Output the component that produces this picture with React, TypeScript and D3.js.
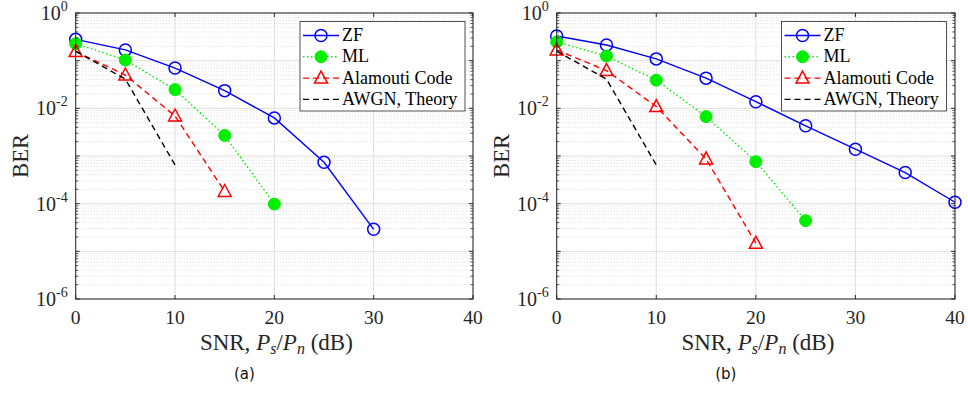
import React from "react";
import * as d3 from "d3";

// ---------- data ----------
const snrTicks = [0, 10, 20, 30, 40];
const berTicksExp = [0, -2, -4, -6];

const legendLabels = ["ZF", "ML", "Alamouti Code", "AWGN, Theory"];

// Panel (a)
const snrA_ZF = [0, 5, 10, 15, 20, 25, 30];
const berA_ZF = [0.28, 0.168, 0.07, 0.0235, 0.0063, 7.4e-4, 2.9e-5];
const snrA_ML = [0, 5, 10, 15, 20];
const berA_ML = [0.227, 0.103, 0.0247, 0.0027, 9.8e-5];
const snrA_AL = [0, 5, 10, 15];
const berA_AL = [0.155, 0.05, 0.0069, 1.8e-4];
const snrA_AW = [0, 5, 10];
const berA_AW = [0.158, 0.041, 6.5e-4];

// Panel (b)
const snrB_ZF = [0, 5, 10, 15, 20, 25, 30, 35, 40];
const berB_ZF = [0.33, 0.213, 0.109, 0.043, 0.0138, 0.0043, 0.00139, 4.5e-4, 1.07e-4];
const snrB_ML = [0, 5, 10, 15, 20, 25];
const berB_ML = [0.247, 0.125, 0.039, 0.0067, 7.6e-4, 4.4e-5];
const snrB_AL = [0, 5, 10, 15, 20];
const berB_AL = [0.168, 0.062, 0.0109, 8.7e-4, 1.48e-5];
const snrB_AW = [0, 5, 10];
const berB_AW = [0.158, 0.041, 6.5e-4];

type Series = { x: number[]; y: number[] };

const styles = [
  { color: "#0000ff", dash: "none", marker: "circle" },
  { color: "#00ee00", dash: "1.5,2.5", marker: "dot" },
  { color: "#ff0000", dash: "6,4", marker: "tri" },
  { color: "#000000", dash: "6,4", marker: "none" },
];

const AX = "#262626";
const serif = "'Liberation Serif', 'DejaVu Serif', serif";

function Marker({ kind, x, y, color }: { kind: string; x: number; y: number; color: string }) {
  if (kind === "circle")
    return <circle cx={x} cy={y} r={6} fill="none" stroke={color} strokeWidth={1.5} />;
  if (kind === "dot") return <circle cx={x} cy={y} r={6} fill={color} stroke={color} strokeWidth={1} />;
  if (kind === "tri")
    return (
      <path
        d={`M${x},${y - 7} L${x + 6.5},${y + 5} L${x - 6.5},${y + 5} Z`}
        fill="none"
        stroke={color}
        strokeWidth={1.5}
      />
    );
  return null;
}

function Panel({
  x0,
  x1,
  series,
  label,
  legendX,
}: {
  x0: number;
  x1: number;
  series: Series[];
  label: string;
  legendX: number;
}) {
  const y0 = 13;
  const y1 = 299;
  const xs = d3.scaleLinear().domain([0, 40]).range([x0, x1]);
  const ys = d3.scaleLog().domain([1e-6, 1]).range([y1, y0]);
  const line = d3
    .line<[number, number]>()
    .x((d) => xs(d[0]))
    .y((d) => ys(d[1]));

  const minor: number[] = [];
  for (let e = -6; e < 0; e++) for (let m = 2; m <= 9; m++) minor.push(m * Math.pow(10, e));
  const major = [1, 1e-1, 1e-2, 1e-3, 1e-4, 1e-5, 1e-6];

  const cx = (x0 + x1) / 2;
  const legW = 165;
  const legH = 89.5;
  const legY = 21.5;
  const rowH = 21.3;

  return (
    <g>
      {/* grid */}
      {minor.map((v, i) => (
        <line key={"mg" + i} x1={x0} x2={x1} y1={ys(v)} y2={ys(v)} stroke="#c8c8c8" strokeWidth={0.7} strokeDasharray="1,2" />
      ))}
      {major.map((v, i) => (
        <line key={"Mg" + i} x1={x0} x2={x1} y1={ys(v)} y2={ys(v)} stroke="#dedede" strokeWidth={1} />
      ))}
      {snrTicks.map((t) => (
        <line key={"xg" + t} x1={xs(t)} x2={xs(t)} y1={y0} y2={y1} stroke="#dedede" strokeWidth={1} />
      ))}

      {/* series */}
      {series.map((s, i) => {
        const pts = s.x.map((v, j) => [v, s.y[j]] as [number, number]);
        const st = styles[i];
        return (
          <g key={"s" + i}>
            <path d={line(pts) || ""} fill="none" stroke={st.color} strokeWidth={1.4} strokeDasharray={st.dash} />
            {pts.map((p, j) => (
              <Marker key={j} kind={st.marker} x={xs(p[0])} y={ys(p[1])} color={st.color} />
            ))}
          </g>
        );
      })}

      {/* box */}
      <rect x={x0} y={y0} width={x1 - x0} height={y1 - y0} fill="none" stroke={AX} strokeWidth={1} />

      {/* ticks */}
      {snrTicks.map((t) => (
        <g key={"xt" + t}>
          <line x1={xs(t)} x2={xs(t)} y1={y1} y2={y1 - 4} stroke={AX} />
          <line x1={xs(t)} x2={xs(t)} y1={y0} y2={y0 + 4} stroke={AX} />
          <text x={xs(t)} y={324} textAnchor="middle" fontFamily={serif} fontSize={19.5} fill={AX}>
            {t}
          </text>
        </g>
      ))}
      {major.map((v, i) => (
        <g key={"yt" + i}>
          <line x1={x0} x2={x0 + 4} y1={ys(v)} y2={ys(v)} stroke={AX} />
          <line x1={x1} x2={x1 - 4} y1={ys(v)} y2={ys(v)} stroke={AX} />
        </g>
      ))}
      {minor.map((v, i) => (
        <g key={"ymt" + i}>
          <line x1={x0} x2={x0 + 2.5} y1={ys(v)} y2={ys(v)} stroke={AX} strokeWidth={0.8} />
          <line x1={x1} x2={x1 - 2.5} y1={ys(v)} y2={ys(v)} stroke={AX} strokeWidth={0.8} />
        </g>
      ))}
      {berTicksExp.map((e) => (
        <text key={"yl" + e} x={x0 - 8} y={ys(Math.pow(10, e)) + 7} textAnchor="end" fontFamily={serif} fontSize={20} fill={AX}>
          10
          <tspan dy={-9} fontSize={14}>
            {e}
          </tspan>
        </text>
      ))}

      {/* axis labels */}
      <text x={cx + 2} y={349.5} textAnchor="middle" fontFamily={serif} fontSize={23} fill={AX}>
        SNR, <tspan fontStyle="italic">P</tspan>
        <tspan dy={4} fontSize={16} fontStyle="italic">s</tspan>
        <tspan dy={-4}>/</tspan>
        <tspan fontStyle="italic">P</tspan>
        <tspan dy={4} fontSize={16} fontStyle="italic">n</tspan>
        <tspan dy={-4}>{"\u00a0"}(dB)</tspan>
      </text>
      <text
        transform={`translate(${x0 - 48},${(y0 + y1) / 2}) rotate(-90)`}
        textAnchor="middle"
        fontFamily={serif}
        fontSize={22.5}
        fill={AX}
      >
        BER
      </text>
      <text x={cx - 30} y={379} textAnchor="middle" fontFamily="'DejaVu Sans', sans-serif" fontSize={15} fill="#111">
        {label}
      </text>

      {/* legend */}
      <rect x={legendX} y={legY} width={legW} height={legH} fill="#fff" stroke={AX} strokeWidth={0.8} />
      {legendLabels.map((name, i) => {
        const st = styles[i];
        const ry = legY + 14 + i * rowH;
        return (
          <g key={"lg" + i}>
            <line x1={legendX + 3} x2={legendX + 39} y1={ry} y2={ry} stroke={st.color} strokeWidth={1.4} strokeDasharray={st.dash} />
            <Marker kind={st.marker} x={legendX + 21} y={ry} color={st.color} />
            <text x={legendX + 42} y={ry + 5.5} fontFamily={serif} fontSize={18} fill="#000">
              {name}
            </text>
          </g>
        );
      })}
    </g>
  );
}

export default function App() {
  const seriesA: Series[] = [
    { x: snrA_ZF, y: berA_ZF },
    { x: snrA_ML, y: berA_ML },
    { x: snrA_AL, y: berA_AL },
    { x: snrA_AW, y: berA_AW },
  ];
  const seriesB: Series[] = [
    { x: snrB_ZF, y: berB_ZF },
    { x: snrB_ML, y: berB_ML },
    { x: snrB_AL, y: berB_AL },
    { x: snrB_AW, y: berB_AW },
  ];
  return (
    <svg
      width={968}
      height={393}
      style={{ position: "absolute", left: 0, top: 0, background: "#fff" }}
    >
      <rect width={968} height={393} fill="#fff" />
      <Panel x0={75.7} x1={473} series={seriesA} label="(a)" legendX={300} />
      <Panel x0={556.7} x1={955} series={seriesB} label="(b)" legendX={781.5} />
    </svg>
  );
}
